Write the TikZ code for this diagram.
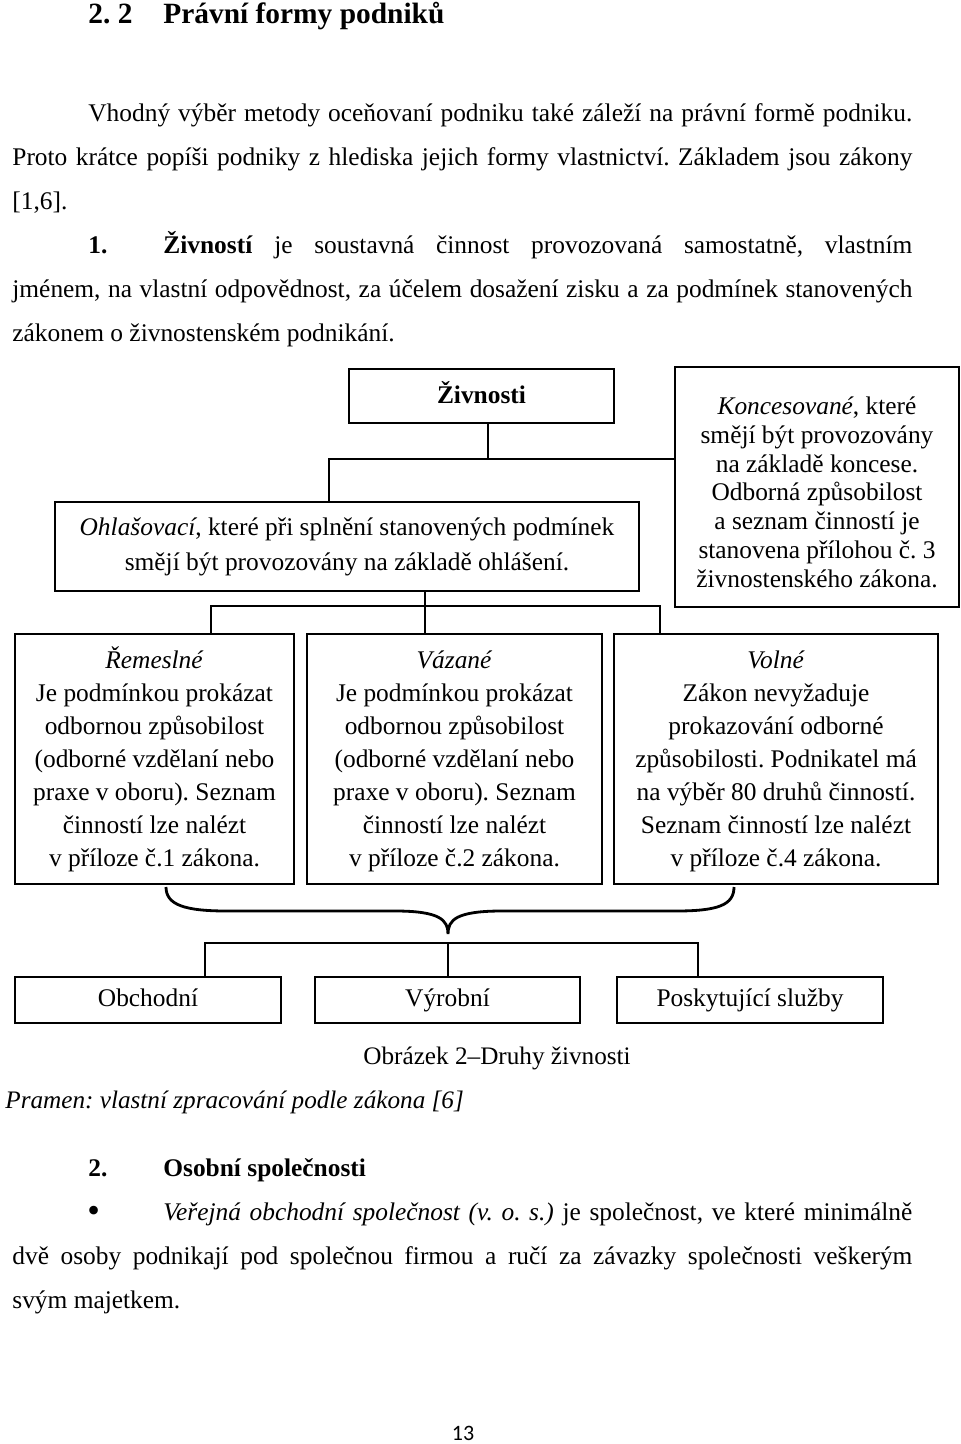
\documentclass[tikz,border=0pt]{standalone}
\usepackage{fontspec}
\setmainfont{Liberation Serif}
\newfontfamily\pagefont{Carlito}
\frenchspacing
\begin{document}
\begin{tikzpicture}[x=0.5pt,y=-0.5pt,
  box/.style={draw, line width=0.8pt, inner sep=0pt, align=center, font=\fontsize{12.7}{16.5}\selectfont},
  smallbox/.style={box, minimum height=23pt, text height=9pt, text depth=3pt},
  body/.style={anchor=base west, inner sep=0pt, font=\fontsize{12.7}{15}\selectfont},
  capt/.style={anchor=base west, inner sep=0pt, font=\fontsize{12.6}{15}\selectfont},
  head/.style={anchor=base west, inner sep=0pt, font=\fontsize{14.7}{17}\selectfont\bfseries},
  conn/.style={line width=0.8pt},
  bracestyle/.style={line width=1.4pt}]
\useasboundingbox (0,0) rectangle (960,1444);
\fill[white] (0,0) rectangle (960,1444);

% heading and text above
\node[head] (t1) at (88,24) {2. 2};
\node[head] (t2) at (163,24) {Právní formy podniků};
\node[body] (p1) at (88,122) {\makebox[412pt][s]{Vhodný výběr metody oceňovaní podniku také záleží na právní formě podniku.}};
\node[body] (p2) at (12,166) {\makebox[450pt][s]{Proto krátce popíši podniky z hlediska jejich formy vlastnictví. Základem jsou zákony}};
\node[body] (p3) at (12,210) {[1,6].};
\node[body] (n1) at (88,254) {\textbf{1.}};
\node[body] (p4) at (163,254) {\makebox[374.5pt][s]{\textbf{Živností} je soustavná činnost provozovaná samostatně, vlastním}};
\node[body] (p5) at (12,298) {\makebox[450pt][s]{jménem, na vlastní odpovědnost, za účelem dosažení zisku a za podmínek stanovených}};
\node[body] (p6) at (12,342) {zákonem o živnostenském podnikání.};

% boxes
\node[box, minimum width=132.5pt, minimum height=27pt, text height=10pt, text depth=3pt, font=\fontsize{12.7}{15}\selectfont\bfseries] (ziv) at (481.5,396) {Živnosti};
\node[box, minimum width=292pt, minimum height=44.5pt, font=\fontsize{12.7}{17.5}\selectfont] (ohl) at (347,546.5)
  {\textit{Ohlašovací}, které při splnění stanovených podmínek\\ smějí být provozovány na základě ohlášení.};
\node[box, minimum width=142pt, minimum height=120pt, font=\fontsize{12.7}{14.4}\selectfont] (kon) at (817,487)
  {\rule{0pt}{14pt}\textit{Koncesované}, které\\ smějí být provozovány\\ na základě koncese.\\ Odborná způsobilost\\ a seznam činností je\\ stanovena přílohou č. 3\\ živnostenského zákona.};
\node[box, minimum width=139.5pt, minimum height=125pt] (rem) at (154.5,759)
  {\rule{0pt}{11.5pt}\textit{Řemeslné}\\ Je podmínkou prokázat\\ odbornou způsobilost\\ (odborné vzdělaní nebo\\ praxe v oboru). Seznam\\ činností lze nalézt\\ v příloze č.1 zákona.};
\node[box, minimum width=147.5pt, minimum height=125pt] (vaz) at (454.5,759)
  {\rule{0pt}{11.5pt}\textit{Vázané}\\ Je podmínkou prokázat\\ odbornou způsobilost\\ (odborné vzdělaní nebo\\ praxe v oboru). Seznam\\ činností lze nalézt\\ v příloze č.2 zákona.};
\node[box, minimum width=162pt, minimum height=125pt] (vol) at (776,759)
  {\rule{0pt}{11.5pt}\textit{Volné}\\ Zákon nevyžaduje\\ prokazování odborné\\ způsobilosti. Podnikatel má\\ na výběr 80 druhů činností.\\ Seznam činností lze nalézt\\ v příloze č.4 zákona.};
\node[smallbox, minimum width=133pt] (obc) at (148,1000) {Obchodní};
\node[smallbox, minimum width=132.5pt] (vyr) at (447.5,1000) {Výrobní};
\node[smallbox, minimum width=133pt] (pos) at (750,1000) {Poskytující služby};

% connectors
\coordinate (a1) at (488,459);
\coordinate (a2) at (329,459);
\draw[conn] (ziv.south -| a1) -- (a1);
\draw[conn] (a2 |- ohl.north) -- (a2) -- (a2 -| kon.west);
\coordinate (b1) at (425,606);
\coordinate (b2) at (211,606);
\coordinate (b3) at (660,606);
\draw[conn] (ohl.south -| b1) -- (b1);
\draw[conn] (b2 |- rem.north) -- (b2) -- (b3) -- (b3 |- vol.north);
\draw[conn] (b1) -- (b1 |- vaz.north);

% brace
\draw[bracestyle] (166,887) .. controls (166,905) and (185,911) .. (227,911) -- (395,911)
  .. controls (440,911) and (448,920) .. (448,934)
  .. controls (448,920) and (456,911) .. (502,911) -- (676,911)
  .. controls (718,911) and (734,905) .. (734,887);

\coordinate (c1) at (448,943);
\coordinate (c2) at (205,943);
\coordinate (c3) at (698,943);
\draw[conn] (c2 |- obc.north) -- (c2) -- (c3) -- (c3 |- pos.north);
\draw[conn] (c1) -- (c1 |- vyr.north);

% caption
\node[capt] (cap) at (363,1064) {Obrázek 2–Druhy živnosti};
\node[capt] (src) at (5,1108) {\textit{Pramen: vlastní zpracování podle zákona [6]}};

% text below
\node[body, font=\fontsize{12.7}{15}\selectfont\bfseries] (n2) at (88,1176) {2.};
\node[body, font=\fontsize{12.7}{15}\selectfont\bfseries] (s2) at (163,1176) {Osobní společnosti};
\node[body, font=\fontsize{18}{18}\selectfont] (bul) at (87,1222) {•};
\node[body] (q1) at (163,1220) {\makebox[374.5pt][s]{\textit{Veřejná obchodní společnost (v. o. s.)} je společnost, ve které minimálně}};
\node[body] (q2) at (12,1264) {\makebox[450pt][s]{dvě osoby podnikají pod společnou firmou a ručí za závazky společnosti veškerým}};
\node[body] (q3) at (12,1308) {svým majetkem.};
\node[anchor=base, inner sep=0pt, font=\pagefont\fontsize{11}{13}\selectfont] (pg) at (463,1440) {13};
\end{tikzpicture}
\end{document}
